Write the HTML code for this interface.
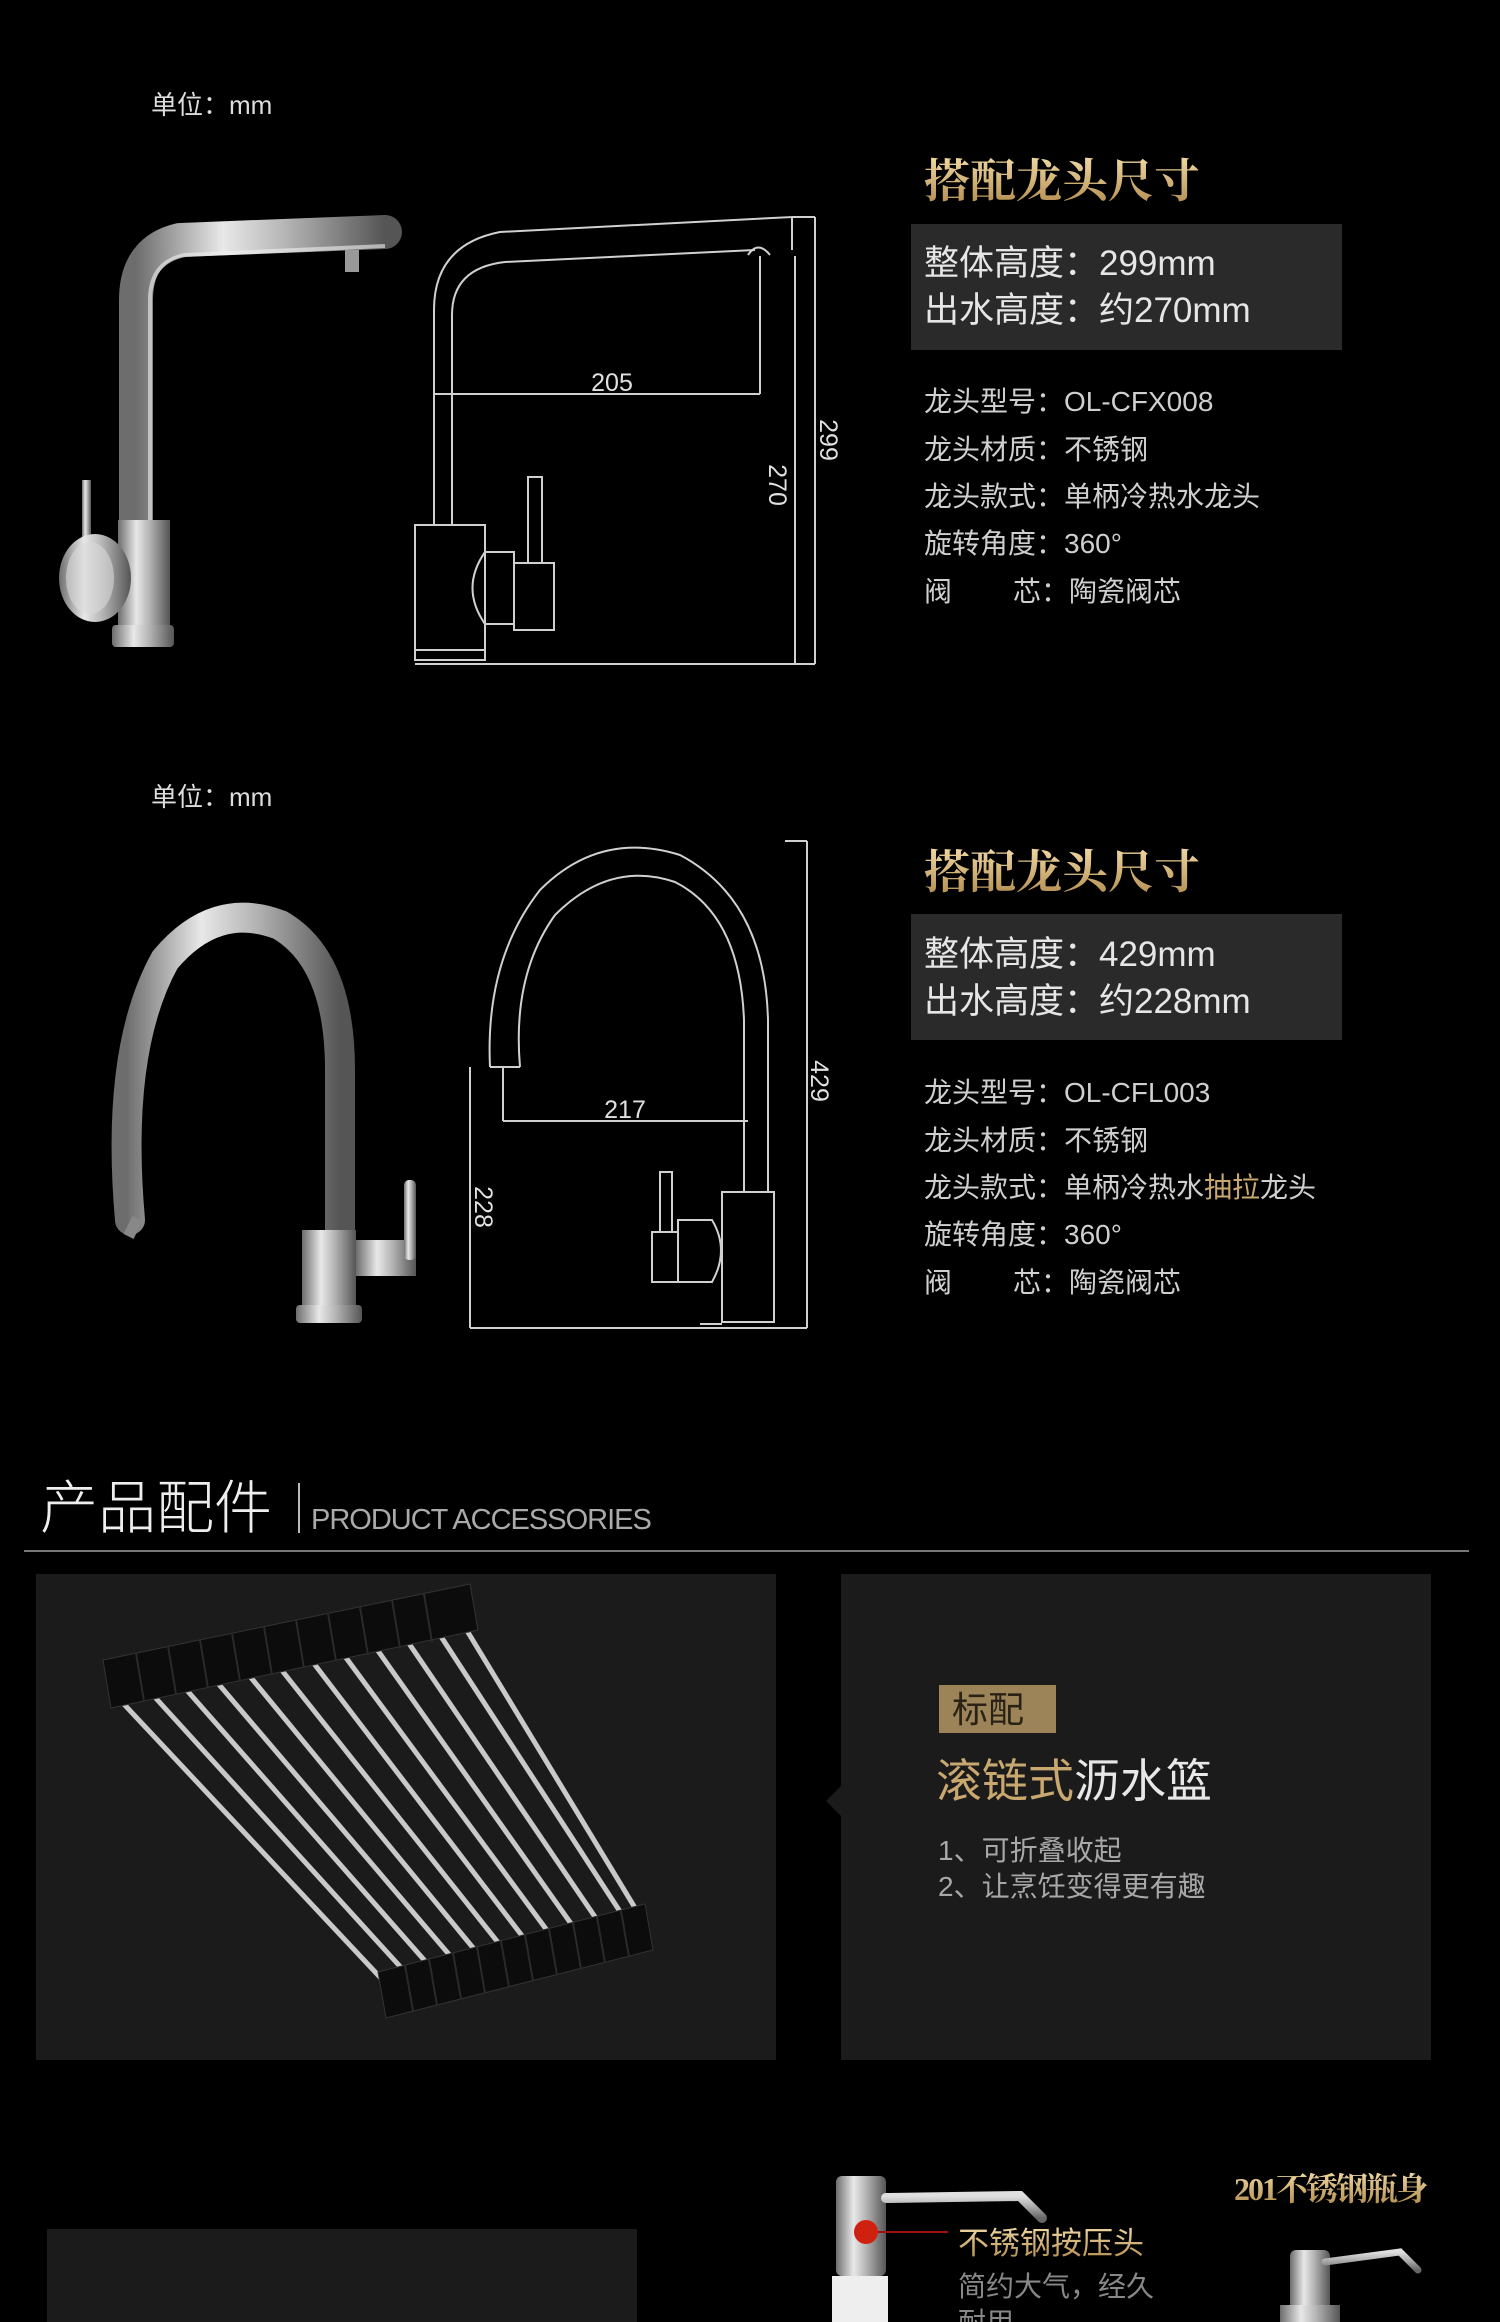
<!DOCTYPE html>
<html><head><meta charset="utf-8"><style>
html,body{margin:0;padding:0;background:#000;}
body{width:1500px;height:2322px;overflow:hidden;position:relative;font-family:"Liberation Sans","Noto Sans CJK SC",sans-serif;}
svg{position:absolute;left:0;top:0;}
</style></head><body>
<svg width="1500" height="2322" viewBox="0 0 1500 2322" xmlns="http://www.w3.org/2000/svg" font-family="Liberation Sans, Noto Sans CJK SC, sans-serif">
<defs>
<linearGradient id="steel" x1="0" y1="0" x2="1" y2="0">
<stop offset="0" stop-color="#6d6d6d"/><stop offset="0.35" stop-color="#e8e8e8"/><stop offset="0.6" stop-color="#b5b5b5"/><stop offset="1" stop-color="#555"/></linearGradient>
<linearGradient id="steelv" x1="0" y1="0" x2="0" y2="1">
<stop offset="0" stop-color="#e0e0e0"/><stop offset="0.5" stop-color="#aaa"/><stop offset="1" stop-color="#666"/></linearGradient>
<linearGradient id="gold" x1="0" y1="0" x2="0" y2="1">
<stop offset="0" stop-color="#f1d9a3"/><stop offset="1" stop-color="#b08a4c"/></linearGradient>
</defs>
<rect width="1500" height="2322" fill="#000"/>

<text x="151" y="114" font-size="26" fill="#ddd">单位：mm</text>
<g>
<path d="M136 600 L136 300 Q136 250 180 240 L385 232" fill="none" stroke="url(#steel)" stroke-width="34" stroke-linecap="round"/>
<path d="M150 600 L150 300 Q150 262 185 255 L385 246" fill="none" stroke="#f0f0f0" stroke-width="4" opacity="0.6"/>
<rect x="345" y="250" width="14" height="22" fill="#999"/>
<rect x="118" y="520" width="52" height="120" fill="url(#steel)"/>
<rect x="112" y="625" width="62" height="22" rx="4" fill="url(#steel)"/>
<rect x="82" y="480" width="9" height="90" fill="url(#steel)"/>
<ellipse cx="95" cy="578" rx="36" ry="44" fill="url(#steel)"/>
<ellipse cx="90" cy="578" rx="24" ry="36" fill="#d8d8d8" opacity="0.6"/>
</g>
<g fill="none" stroke="#d0d0d0" stroke-width="2">
<line x1="792" y1="217" x2="815" y2="217"/>
<line x1="815" y1="217" x2="815" y2="664"/>
<line x1="415" y1="664" x2="815" y2="664"/>
<path d="M434 525 L434 310 Q434 245 500 232 L792 217 L792 250"/>
<path d="M452 525 L452 315 Q452 268 505 262 L755 250"/>
<path d="M748 255 Q758 240 770 255"/>
<line x1="795" y1="256" x2="795" y2="664"/>
<line x1="760" y1="256" x2="760" y2="394"/>
<line x1="434" y1="394" x2="760" y2="394"/>
<rect x="415" y="525" width="70" height="135"/>
<line x1="415" y1="650" x2="485" y2="650"/>
<rect x="514" y="563" width="40" height="67"/>
<rect x="528" y="477" width="14" height="86"/>
<path d="M485 552 Q460 588 485 624 L514 624 L514 552 Z"/>
</g>
<text x="612" y="391" font-size="25" fill="#e0e0e0" text-anchor="middle">205</text>
<text transform="translate(820,440) rotate(90)" font-size="25" fill="#e0e0e0" text-anchor="middle">299</text>
<text transform="translate(769,485) rotate(90)" font-size="25" fill="#e0e0e0" text-anchor="middle">270</text>
<text x="924" y="197" font-size="46" font-weight="bold" fill="url(#gold)" font-family="Liberation Serif, Noto Serif CJK SC, serif">搭配龙头尺寸</text>
<rect x="911" y="224" width="431" height="126" fill="#2a2a2a"/>
<text x="924" y="275" font-size="35" fill="#e6e6e6">整体高度：299mm</text>
<text x="924" y="322" font-size="35" fill="#e6e6e6">出水高度：约270mm</text>
<g font-size="28" fill="#cfcfcf">
<text x="924" y="411">龙头型号：OL-CFX008</text>
<text x="924" y="459">龙头材质：不锈钢</text>
<text x="924" y="506">龙头款式：单柄冷热水龙头</text>
<text x="924" y="553">旋转角度：360°</text>
<text x="924" y="601">阀<tspan x="1013">芯：陶瓷阀芯</tspan></text>
</g>

<text x="151" y="806" font-size="26" fill="#ddd">单位：mm</text>
<g>
<path d="M130 1220 Q115 1050 165 960 Q215 900 280 925 Q340 960 340 1070 L340 1240" fill="none" stroke="url(#steel)" stroke-width="30" stroke-linecap="round"/>
<path d="M128 1225 L138 1230" stroke="#888" stroke-width="20"/>
<rect x="302" y="1230" width="54" height="90" fill="url(#steel)"/>
<rect x="296" y="1305" width="66" height="18" rx="4" fill="url(#steel)"/>
<rect x="356" y="1240" width="60" height="36" fill="url(#steel)"/>
<rect x="404" y="1180" width="12" height="80" rx="5" fill="url(#steel)"/>
</g>
<g fill="none" stroke="#d0d0d0" stroke-width="2">
<line x1="785" y1="841" x2="807" y2="841"/>
<line x1="807" y1="841" x2="807" y2="1328"/>
<line x1="470" y1="1328" x2="807" y2="1328"/>
<line x1="470" y1="1067" x2="470" y2="1328"/>
<path d="M490 1067 Q485 960 540 890 Q600 830 680 855 Q765 900 768 1020 L768 1192"/>
<path d="M520 1067 Q512 975 555 915 Q610 860 675 882 Q740 915 744 1020 L744 1192"/>
<path d="M490 1067 L520 1067"/>
<line x1="503" y1="1067" x2="503" y2="1121"/>
<line x1="503" y1="1121" x2="748" y2="1121"/>
<rect x="722" y="1192" width="52" height="130"/>
<rect x="652" y="1232" width="26" height="50"/>
<rect x="660" y="1172" width="12" height="60"/>
<path d="M678 1220 L712 1220 Q730 1250 712 1282 L678 1282 Z"/>
<line x1="700" y1="1324" x2="722" y2="1324"/>
</g>
<text x="625" y="1118" font-size="25" fill="#e0e0e0" text-anchor="middle">217</text>
<text transform="translate(811,1081) rotate(90)" font-size="25" fill="#e0e0e0" text-anchor="middle">429</text>
<text transform="translate(475,1207) rotate(90)" font-size="25" fill="#e0e0e0" text-anchor="middle">228</text>
<text x="924" y="888" font-size="46" font-weight="bold" fill="url(#gold)" font-family="Liberation Serif, Noto Serif CJK SC, serif">搭配龙头尺寸</text>
<rect x="911" y="914" width="431" height="126" fill="#2a2a2a"/>
<text x="924" y="966" font-size="35" fill="#e6e6e6">整体高度：429mm</text>
<text x="924" y="1013" font-size="35" fill="#e6e6e6">出水高度：约228mm</text>
<g font-size="28" fill="#cfcfcf">
<text x="924" y="1102">龙头型号：OL-CFL003</text>
<text x="924" y="1150">龙头材质：不锈钢</text>
<text x="924" y="1197">龙头款式：单柄冷热水<tspan fill="#c9a870">抽拉</tspan>龙头</text>
<text x="924" y="1244">旋转角度：360°</text>
<text x="924" y="1292">阀<tspan x="1013">芯：陶瓷阀芯</tspan></text>
</g>

<text x="40" y="1528" font-size="58" fill="#eee" font-weight="300">产品配件</text>
<line x1="299" y1="1483" x2="299" y2="1533" stroke="#bbb" stroke-width="2"/>
<text x="311" y="1529" font-size="29" fill="#aaa" letter-spacing="-1">PRODUCT ACCESSORIES</text>
<line x1="24" y1="1551" x2="1469" y2="1551" stroke="#777" stroke-width="2"/>

<rect x="36" y="1574" width="740" height="486" fill="#1b1b1b"/>
<rect x="841" y="1574" width="590" height="486" fill="#1b1b1b"/>
<path d="M841 1786 L826 1801 L841 1816 Z" fill="#1b1b1b"/>

<g>
<g stroke="#c9c9c9" stroke-width="5">
<line x1="120" y1="1700" x2="392" y2="1990"/>
<line x1="152" y1="1694" x2="416" y2="1984"/>
<line x1="184" y1="1687" x2="440" y2="1978"/>
<line x1="216" y1="1681" x2="464" y2="1972"/>
<line x1="248" y1="1674" x2="488" y2="1966"/>
<line x1="280" y1="1668" x2="512" y2="1960"/>
<line x1="312" y1="1661" x2="536" y2="1954"/>
<line x1="344" y1="1655" x2="560" y2="1948"/>
<line x1="376" y1="1648" x2="584" y2="1942"/>
<line x1="408" y1="1642" x2="608" y2="1936"/>
<line x1="440" y1="1635" x2="632" y2="1930"/>
<line x1="466" y1="1629" x2="646" y2="1926"/>
</g>
<path d="M103 1660 L470 1584 L478 1630 L111 1708 Z" fill="#0c0c0c" stroke="#333" stroke-width="1"/>
<path d="M378 1972 L645 1904 L653 1950 L386 2018 Z" fill="#0c0c0c" stroke="#333" stroke-width="1"/>
<g stroke="#2a2a2a" stroke-width="2">
<line x1="136" y1="1653" x2="144" y2="1701"/><line x1="168" y1="1646" x2="176" y2="1694"/><line x1="200" y1="1640" x2="208" y2="1688"/><line x1="232" y1="1633" x2="240" y2="1681"/><line x1="264" y1="1627" x2="272" y2="1675"/><line x1="296" y1="1620" x2="304" y2="1668"/><line x1="328" y1="1613" x2="336" y2="1661"/><line x1="360" y1="1607" x2="368" y2="1655"/><line x1="392" y1="1600" x2="400" y2="1648"/><line x1="424" y1="1594" x2="432" y2="1642"/>
<line x1="405" y1="1965" x2="413" y2="2011"/><line x1="429" y1="1959" x2="437" y2="2005"/><line x1="453" y1="1953" x2="461" y2="1999"/><line x1="477" y1="1947" x2="485" y2="1993"/><line x1="501" y1="1941" x2="509" y2="1987"/><line x1="525" y1="1935" x2="533" y2="1981"/><line x1="549" y1="1929" x2="557" y2="1975"/><line x1="573" y1="1923" x2="581" y2="1969"/><line x1="597" y1="1917" x2="605" y2="1963"/><line x1="621" y1="1911" x2="629" y2="1957"/>
</g>
</g>

<rect x="939" y="1685" width="117" height="48" fill="#9c8458"/>
<text x="952" y="1722" font-size="36" fill="#2a2216">标配</text>
<text x="936" y="1797" font-size="46" fill="#c9a870">滚链式<tspan fill="#e8e8e8">沥水篮</tspan></text>
<text x="938" y="1860" font-size="28" fill="#a8a8a8">1、可折叠收起</text>
<text x="938" y="1896" font-size="28" fill="#a8a8a8">2、让烹饪变得更有趣</text>

<rect x="47" y="2229" width="590" height="93" fill="#1b1b1b"/>
<g>
<rect x="836" y="2176" width="50" height="100" rx="6" fill="url(#steel)"/>
<path d="M886 2198 L1020 2196 L1042 2218" fill="none" stroke="url(#steelv)" stroke-width="10" stroke-linecap="round"/>
<rect x="832" y="2276" width="56" height="46" fill="#eee"/>
<circle cx="866" cy="2232" r="12" fill="#d0200f"/>
<line x1="878" y1="2232" x2="948" y2="2232" stroke="#a01010" stroke-width="2"/>
</g>
<text x="958" y="2254" font-size="31" fill="url(#gold)">不锈钢按压头</text>
<text x="958" y="2296" font-size="28" fill="#888">简约大气，经久</text>
<text x="958" y="2332" font-size="28" fill="#888">耐用</text>
<text x="1234" y="2200" font-size="32" font-weight="bold" fill="url(#gold)" font-family="Liberation Serif, Noto Serif CJK SC, serif" letter-spacing="-2">201不锈钢瓶身</text>
<g>
<rect x="1290" y="2250" width="40" height="72" rx="6" fill="url(#steel)"/>
<path d="M1325 2262 L1400 2252 L1418 2270" fill="none" stroke="url(#steelv)" stroke-width="7" stroke-linecap="round"/>
<rect x="1280" y="2305" width="60" height="17" fill="url(#steel)"/>
</g>
</svg>
</body></html>
